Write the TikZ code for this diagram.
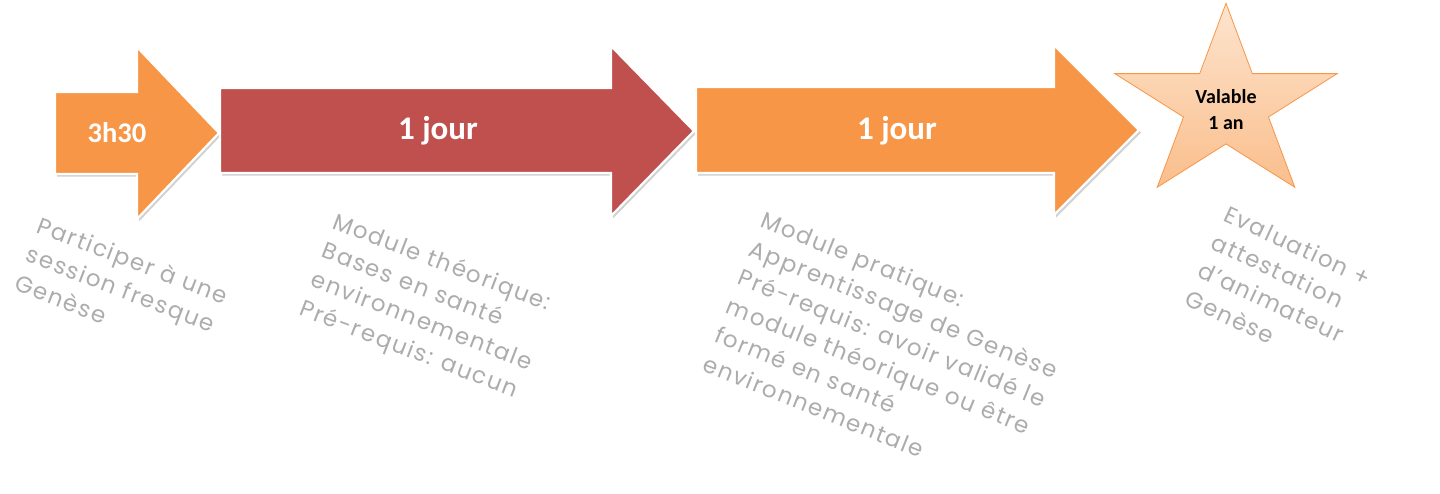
\documentclass[tikz,border=0pt]{standalone}
\usepackage{fontspec}
\newfontfamily\carlito{Carlito}
\newfontfamily\geo{Poppins}[LetterSpace=7.0]
\definecolor{aorange}{RGB}{247,150,70}
\definecolor{ared}{RGB}{192,80,77}
\definecolor{descgray}{RGB}{172,172,172}
\definecolor{startop}{RGB}{253,228,206}
\definecolor{starbot}{RGB}{250,190,140}
\tikzset{
  arrowshadow/.style={fill=black!18, draw=none},
  arrowbody/.style={draw=white, line width=2.2pt, line join=miter},
  arrowlabel/.style={text=white, font=\carlito\bfseries, inner sep=0pt},
  desc/.style={text=descgray, font=\geo\fontsize{23}{31}\selectfont, align=left, inner sep=0pt, anchor=north west},
}
\begin{document}
\begin{tikzpicture}[x=1pt,y=-1pt]
\useasboundingbox (0,0) rectangle (1440,493);
% arrow 1 (orange, 3h30)
\fill[arrowshadow, shift={(2,2.5)}] (55,92) -- (137,92) -- (137,47) -- (219,133) -- (137,219) -- (137,174) -- (55,174) -- cycle;
\filldraw[arrowbody, fill=aorange] (55,92) -- (137,92) -- (137,47) -- (219,133) -- (137,219) -- (137,174) -- (55,174) -- cycle;
% arrow 2 (red)
\fill[arrowshadow, shift={(2,2.5)}] (220,88) -- (611,88) -- (611,46) -- (694,131) -- (611,216) -- (611,173) -- (220,173) -- cycle;
\filldraw[arrowbody, fill=ared] (220,88) -- (611,88) -- (611,46) -- (694,131) -- (611,216) -- (611,173) -- (220,173) -- cycle;
% arrow 3 (orange)
\fill[arrowshadow, shift={(2,2.5)}] (696,87) -- (1054,87) -- (1054,45) -- (1139,130) -- (1054,215) -- (1054,173) -- (696,173) -- cycle;
\filldraw[arrowbody, fill=aorange] (696,87) -- (1054,87) -- (1054,45) -- (1139,130) -- (1054,215) -- (1054,173) -- (696,173) -- cycle;
% labels on arrows
\node[arrowlabel, font=\carlito\bfseries\fontsize{28.5}{30}\selectfont] (l1) at (117,133) {3h30};
\node[arrowlabel, font=\carlito\bfseries\fontsize{33}{34}\selectfont] (l2) at (438,131) {1 jour};
\node[arrowlabel, font=\carlito\bfseries\fontsize{33}{34}\selectfont] (l3) at (897,131) {1 jour};
% star
\draw[draw=aorange, line width=0.8pt, top color=startop, bottom color=starbot]
  (1226,3.3) -- (1252.3,73.6) -- (1337.2,73.6) -- (1268.5,117) -- (1294.8,187.3)
  -- (1226,143.9) -- (1157.2,187.3) -- (1183.5,117) -- (1114.8,73.6) -- (1199.7,73.6) -- cycle;
\node[font=\carlito\bfseries\fontsize{20}{26}\selectfont, align=center, inner sep=0pt] (star) at (1226,110) {Valable\\1 an};
% descriptions
\node[desc, rotate=-21] (d1) at (42,215) {Participer à une\\session fresque\\Genèse};
\node[desc, rotate=-21] (d2) at (338,211) {Module théorique:\\Bases en santé\\environnementale\\Pré-requis: aucun};
\node[desc, rotate=-22] (d3) at (766,210) {Module pratique:\\Apprentissage de Genèse\\Pré-requis: avoir validé le\\module théorique ou être\\formé en santé\\environnementale};
\node[desc, rotate=-25] (d4) at (1230,204) {Evaluation +\\attestation\\d’animateur\\Genèse};
\end{tikzpicture}
\end{document}
